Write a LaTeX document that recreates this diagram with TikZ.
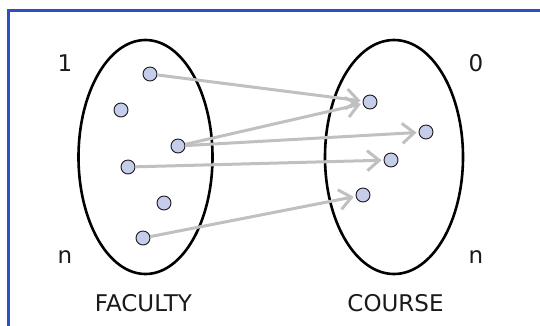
\documentclass[tikz,border=0pt]{standalone}
\usepackage{fontspec}
\setmainfont{DejaVu Sans}
\usetikzlibrary{arrows.meta}
\definecolor{frameblue}{HTML}{2F4FBF}
\definecolor{dotfill}{HTML}{C5CDEB}
\definecolor{linkgray}{HTML}{C0C0C0}
\definecolor{inkdark}{HTML}{1A1A1A}
\tikzset{
  setshape/.style={draw=black, line width=2.6pt},
  elem/.style={circle, draw=inkdark, line width=0.9pt, fill=dotfill,
    minimum size=14pt, inner sep=0pt},
  link/.style={draw=linkgray, line width=3pt,
    -{Straight Barb[length=12pt, width=20pt]}, shorten >=2pt},
  lbl/.style={anchor=base, text=inkdark, inner sep=0pt,
    font=\fontsize{23}{26}\selectfont},
}
\begin{document}
\begin{tikzpicture}[x=1pt, y=-1pt]
  \useasboundingbox (0,0) rectangle (540,325);
  % frame (only the top and left edges fall inside the picture)
  \draw[frameblue, line width=3pt] (8,330) -- (8,10.3) -- (545,10.3);

  % the two sets
  \draw[setshape] (145.5,157) ellipse [x radius=67, y radius=117];
  \draw[setshape] (394,157) ellipse [x radius=69, y radius=117];

  % elements of FACULTY
  \node[elem] (f1) at (150,74) {};
  \node[elem] (f2) at (121,110) {};
  \node[elem] (f3) at (178,146) {};
  \node[elem] (f4) at (128,167) {};
  \node[elem] (f5) at (164,203) {};
  \node[elem] (f6) at (143,238) {};

  % elements of COURSE
  \node[elem] (c1) at (370,102) {};
  \node[elem] (c2) at (426,132) {};
  \node[elem] (c3) at (391,160) {};
  \node[elem] (c4) at (363,195) {};

  % mapping
  \draw[link] (f1) -- (c1);
  \draw[link] (f3) -- (c1);
  \draw[link] (f3) -- (c2);
  \draw[link] (f4) -- (c3);
  \draw[link] (f6) -- (c4);

  % cardinality and set labels
  \node[lbl] (one)  at (65,71)  {1};
  \node[lbl] (zero) at (476,71) {0};
  \node[lbl] (nl)   at (65,263) {n};
  \node[lbl] (nr)   at (476,263) {n};
  \node[lbl] (fac)  at (143.5,311) {FACULTY};
  \node[lbl] (crs)  at (395.5,311) {COURSE};
\end{tikzpicture}
\end{document}
